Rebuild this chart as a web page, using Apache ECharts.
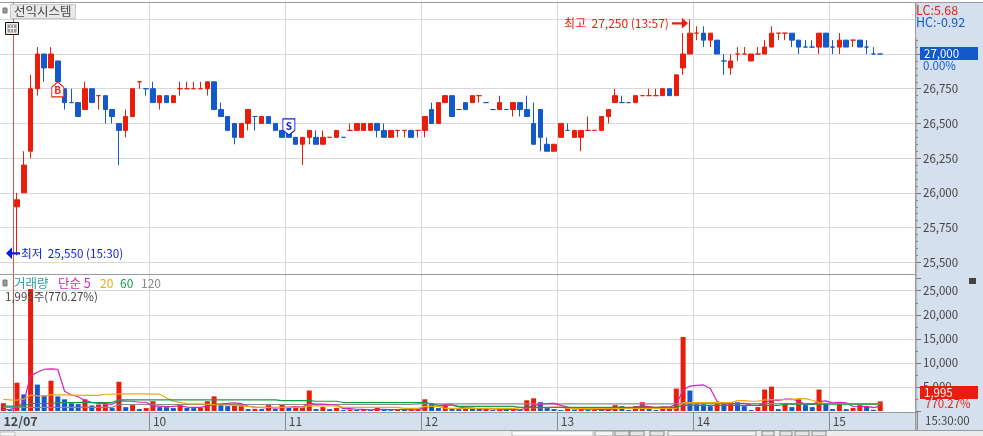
<!DOCTYPE html>
<html><head><meta charset="utf-8">
<style>html,body{margin:0;padding:0;background:#fff}#c{width:983px;height:436px}</style>
<script src="https://cdn.jsdelivr.net/npm/echarts@6/dist/echarts.min.js"></script>
</head><body><div id="c"></div>
<script>
// candles, one row per 10 bars (first two volume bars have no candle)
const opens=[null,null,
25900,26000,26300,26750,27000,26900,26950,26750,26650,26650,
26600,26750,26700,26700,26600,26500,26450,26550,26800,26750,
26750,26650,26700,26650,26750,26750,26750,26750,26750,26800,
26600,26550,26500,26400,26500,26550,26500,26550,26500,26450,
26450,26400,26350,26400,26400,26350,26400,26400,26400,26450,
26450,26450,26450,26500,26450,26400,26450,26450,26450,26450,
26450,26600,26500,26650,26700,26600,26650,26650,26700,26650,
26600,26600,26600,26600,26650,26600,26500,26600,26350,26300,
26400,26450,26400,26400,26450,26450,26450,26550,26650,26650,
26650,26650,26700,26700,26700,26700,26750,26700,26900,27000,
27150,27150,27100,27100,26950,26900,27000,27000,26950,27000,
27000,27050,27150,27150,27150,27100,27050,27050,27050,27150,
27050,27050,27100,27100,27100,27050,27000,27000];
const closes=[null,null,
25950,26200,26750,27000,26900,27000,26800,26650,26650,26550,
26750,26650,26700,26600,26550,26450,26550,26750,26800,26750,
26650,26700,26650,26700,26750,26750,26750,26750,26800,26600,
26550,26450,26400,26500,26600,26550,26550,26500,26450,26400,
26400,26350,26400,26450,26350,26400,26400,26450,26400,26450,
26500,26500,26500,26450,26400,26450,26450,26450,26400,26450,
26550,26500,26650,26700,26550,26600,26600,26700,26700,26650,
26600,26650,26600,26650,26600,26550,26350,26400,26300,26350,
26500,26450,26450,26450,26450,26450,26550,26600,26700,26650,
26650,26700,26700,26700,26700,26750,26700,26850,27000,27150,
27150,27100,27150,27000,26950,26950,27000,27000,27000,27000,
27050,27150,27150,27150,27100,27050,27050,27050,27150,27050,
27050,27100,27050,27100,27050,27050,27000,27000];
const lows=[null,null,
25550,26000,26250,26700,26800,26900,26800,26600,26650,26550,
26600,26650,26600,26500,26500,26200,26400,26550,26750,26700,
26650,26600,26650,26650,26700,26750,26750,26750,26700,26600,
26550,26450,26350,26400,26450,26450,26500,26500,26450,26400,
26400,26350,26200,26350,26350,26350,26400,26400,26400,26450,
26450,26450,26450,26400,26400,26400,26400,26400,26400,26400,
26400,26500,26500,26650,26550,26600,26600,26650,26650,26650,
26600,26600,26600,26550,26550,26550,26350,26300,26300,26300,
26400,26450,26400,26300,26450,26450,26450,26500,26650,26650,
26650,26650,26700,26700,26700,26700,26700,26700,26850,27000,
27100,27050,27050,27000,26850,26850,26950,27000,26950,27000,
27000,27050,27100,27100,27050,27000,27050,27050,27000,27050,
27000,27000,27050,27050,27050,27000,27000,27000];
const highs=[null,null,
26000,26300,26850,27050,27000,27050,26950,26750,26750,26650,
26800,26750,26700,26700,26600,26500,26600,26750,26800,26750,
26800,26700,26700,26700,26800,26800,26800,26800,26800,26800,
26650,26550,26500,26500,26600,26550,26550,26550,26500,26450,
26450,26400,26400,26450,26450,26450,26400,26450,26400,26500,
26500,26500,26500,26500,26500,26450,26450,26450,26450,26450,
26550,26650,26650,26700,26700,26600,26650,26700,26700,26650,
26600,26700,26600,26650,26650,26700,26650,26600,26400,26350,
26500,26500,26450,26450,26550,26450,26550,26600,26750,26700,
26650,26700,26700,26750,26750,26750,26750,26850,27150,27250,
27200,27200,27150,27100,27000,27000,27050,27050,27000,27050,
27100,27200,27150,27150,27150,27100,27100,27100,27150,27150,
27100,27150,27100,27100,27100,27100,27050,27000];
// flat candles the reference paints blue although the close did not fall
const flatDownBars=[10,92,118,119,122,127,129];

const volumes=[
1620,200,5880,3450,25350,5480,3240,6290,3040,2430,
1620,1420,2430,1150,1350,1420,610,6080,810,1220,
400,610,2030,810,790,610,1220,620,600,650,
2030,3040,1220,1000,1100,1220,400,450,400,1220,
400,1350,740,810,850,4260,400,810,400,650,
200,320,250,300,200,690,200,180,300,280,
350,400,2430,1620,610,1220,400,380,550,500,
450,550,200,300,250,300,200,2230,2640,1830,
810,400,200,810,300,350,250,320,250,300,
1220,1010,200,1010,1830,400,200,780,820,4660,
15380,4260,1420,1400,1010,1830,1420,1830,1800,1010,
200,810,4460,5070,400,1620,810,2430,1220,810,
4460,1620,400,1620,400,610,1220,1010,259,1995];
const ma5=[
300,350,700,1900,7300,8070,8680,8760,8680,4100,
3320,2960,2190,1810,1590,1550,1390,2120,2050,2030,
1820,1820,1010,1010,930,970,1090,810,770,740,
1020,1390,1510,1590,1680,1520,990,830,710,740,
570,760,820,900,830,1600,1410,1430,1340,1300,
490,480,360,340,250,350,330,310,310,330,
260,300,750,1020,1080,1260,1260,850,630,610,
460,490,450,400,350,320,250,620,1120,1440,
1540,1580,1180,810,500,410,380,410,290,290,
430,580,600,750,1050,890,730,840,810,1370,
4370,5180,5310,5420,4690,1980,1420,1500,1580,1580,
1250,1130,1660,2310,2190,2470,2470,2070,1300,1380,
1950,2110,1700,1780,1700,930,850,970,700,1020];
const ma20=[
2430,2300,2280,2450,3300,3150,3150,3350,3350,3350,
3300,3280,3250,3250,3250,3480,3480,3580,3580,3580,
3580,3580,3500,3500,2700,2050,1800,1550,1500,1500,
1400,1300,1250,1200,1150,1050,950,750,750,750,
750,750,750,750,750,1080,1080,1080,1080,1080,
740,740,740,740,740,740,740,740,740,540,
540,540,950,950,950,540,540,540,540,540,
540,540,540,540,540,540,680,680,680,680,
680,810,810,540,540,540,540,540,540,540,
540,540,540,540,540,540,540,540,540,540,
1750,1750,1750,1750,1750,1750,1750,1750,2160,2160,
2030,2030,2300,2370,2370,2370,2370,2570,2570,2230,
1760,1560,1560,1560,1490,1490,1490,1490,1490,1490];
const ma60=[
1010,1010,1010,1100,1555,1555,1555,1555,1760,1760,
1760,1760,1760,1760,1760,1760,1760,2300,2300,2300,
2300,2300,2300,2300,2300,2300,2300,2300,2300,2300,
2300,2300,2300,2300,2300,2300,2300,2300,2300,2300,
2300,2160,2160,2160,2160,2160,2030,2030,2030,2030,
1760,1760,1760,1760,1760,1760,1760,1760,1760,1760,
1760,1760,1760,1500,1200,1200,1200,950,950,950,
950,950,950,950,950,950,740,740,740,740,
740,740,740,740,740,740,740,740,740,740,
740,740,740,740,740,740,740,740,740,740,
1150,1150,1150,1150,1150,1150,1150,1150,1150,1150,
1150,1150,1150,1150,1150,1420,1420,1420,1420,1420,
1420,1420,1420,1420,1420,1420,1420,1420,1420,1420];
const ma120=[
750,750,750,750,750,750,750,750,750,750,
750,750,750,750,750,750,750,1350,1350,1350,
1350,1350,1350,1350,1350,1350,1350,1350,1350,1350,
1350,1350,1350,1350,1350,1350,1350,1350,1350,1350,
1350,1350,1350,1350,1350,1350,1350,1350,1350,1350,
1350,1350,1350,1350,1350,1350,1350,1350,1350,1350,
1350,1500,1500,1500,1500,1500,1500,1500,1500,1500,
1500,1500,1500,1500,1500,1500,1500,1500,1500,1500,
1500,1500,1500,1500,1500,1500,1500,1500,1500,1500,
1500,1500,1500,1500,1500,1500,1500,1500,1500,1500,
1500,1550,1550,1550,1550,1550,1550,1550,1550,1550,
1550,1550,1550,1550,1550,1550,1550,1550,1550,1550,
1550,1550,1550,1550,1550,1550,1550,1550,1550,1550];

const dayLabels=['12/07','10','11','12','13','14','15'];
const dayLabelBars=[0,22,42,62,82,102,122];
const dayLineBars=[22,42,62,82,102,122];
const barCount=135;
const categories=Array.from({length:barCount},(_,i)=>'b'+i);
const highBar=101, highValue=27250, lowBar=2, lowValue=25550;
const buyBar=8, buyLevel=26745, sellBar=42, sellLevel=26475;

const RED='#ea1c0a', BLUE='#1259cc', PANEL='#d5e0ee', GRID='#d8d8d8', EDGE='#9a9a9a', INK='#444';
const FONT='"Noto Sans CJK KR"';
const F=(s,w)=>(w?w+' ':'')+s+'px '+FONT;
const fmt=v=>String(v).replace(/\B(?=(\d{3})+$)/g,',');

const candles=opens.map((o,i)=>{
  const value=o==null?['-','-','-','-']:[o,closes[i],lows[i],highs[i]];
  if(flatDownBars.includes(i)) return {value,itemStyle:{color:BLUE,color0:BLUE,borderColor:BLUE,borderColor0:BLUE}};
  return {value};
});
const volBars=volumes.map((v,i)=>({value:v,itemStyle:{color:(i===0||v>volumes[i-1])?RED:BLUE}}));
const txt=(x,y,text,fill,size,extra)=>({type:'text',z:30,silent:true,style:Object.assign({x,y,text,fill,font:F(size),verticalAlign:'middle'},extra||{})});
const rect=(x,y,w,h,fill,z,stroke)=>({type:'rect',z:z==null?-5:z,silent:true,shape:{x,y,width:w,height:h},style:{fill,stroke:stroke||null}});

const graphic=[
  rect(915,2,68,428,PANEL),
  rect(0,412,915,18,PANEL),
  rect(0,430,983,6,'#ececec'),
  rect(512,431,81,5,'#ffffff',-4,'#bbb'),
  rect(595,431,18,5,'#f4f4f4',-4,'#999'),rect(615,431,14,5,'#e4e4e4',-4,'#888'),rect(630,431,14,5,'#e4e4e4',-4,'#888'),
  rect(650,431,14,5,'#e4e4e4',-4,'#888'),rect(668,431,88,5,'#f2f2f2',-4,'#999'),rect(762,431,12,5,'#e4e4e4',-4,'#888'),
  rect(780,431,12,5,'#e4e4e4',-4,'#888'),rect(795,431,14,5,'#e4e4e4',-4,'#888'),rect(812,431,14,5,'#e4e4e4',-4,'#888'),
  rect(0,432,15,4,'#f6f6f6',-4,'#bbb'),
  rect(916,18,8,20,PANEL,25),
  rect(0,2,983,1,EDGE,20),
  rect(0,274,915,1,EDGE,20),
  rect(0,430,983,1,EDGE,20),
  rect(915,2,1.5,428,EDGE,20),
  rect(13,3,1,409,'#d9534a',1),
  rect(3,8,4,5,'#999',20,'#777'),
  rect(10.5,4.5,65,14,'#e9e9e9',20,'#c8c8c8'),
  txt(14,11.5,'선익시스템',INK,12.5),
  rect(5.5,22.5,13,12,'#efefef',20,'#111'),
  rect(7.5,24.5,9,8,'#999',21),
  rect(10.2,25,1,7,'#efefef',22),rect(13,25,1,7,'#efefef',22),rect(8,28,8,1,'#efefef',22),
  rect(3,280,4,6,'#999',20,'#777'),
  txt(14,283,'거래량','#2e9a9a',12.5),
  txt(58,283,'단순 5','#d821b4',12.5),
  txt(100,283,'20','#efa90b',12),
  txt(120,283,'60','#189a46',12),
  txt(141,283,'120','#8a8a8a',12),
  txt(5,296.5,'1,995주(770.27%)',INK,11.5),
  txt(916,10,'LC:5.68',RED,12.5),
  txt(916,22,'HC:-0.92',BLUE,12.5),
  rect(920,47,58,13,BLUE,25),
  txt(924,53.5,'27,000','#fff',11.5),
  txt(923,65.5,'0.00%',BLUE,11.5),
  rect(920,386,58,13,RED,25),
  txt(924,392.5,'1,995','#fff',11.5),
  txt(925,404,'770.27%',RED,11.5),
  txt(925,420.5,'15:30:00',INK,11.5),
  rect(969,278,7,6,'#444',20)
];
const gridLeft=-0.4, gridW=918;
const hiddenX=i=>({type:'category',gridIndex:i,data:categories,show:false,boundaryGap:true});
const option={
  animation:false,
  backgroundColor:'#fff',
  textStyle:{fontFamily:FONT},
  graphic,
  grid:[
    {left:gridLeft,width:gridW,top:19.3,height:243},
    {left:gridLeft,width:gridW,top:278.7,height:132.3},
    {left:gridLeft,width:gridW,top:3,height:409}
  ],
  xAxis:[hiddenX(0),hiddenX(1),{
    type:'category',gridIndex:2,data:categories,boundaryGap:true,
    axisLine:{show:true,lineStyle:{color:EDGE}},
    axisTick:{show:true,length:18,lineStyle:{color:'#8a8a8a'},interval:i=>dayLineBars.includes(i)},
    splitLine:{show:true,lineStyle:{color:GRID,width:1},interval:i=>dayLineBars.includes(i)},
    axisLabel:{show:true,align:'left',margin:3,fontSize:12,color:INK,fontFamily:FONT,
      interval:i=>dayLabelBars.includes(i),
      formatter:(v,i)=>{const k=dayLabelBars.indexOf(i);if(k<0)return '';return k===0?'{b|'+dayLabels[k]+'}':dayLabels[k];},
      rich:{b:{fontWeight:'bold',fontSize:12.5,color:INK,fontFamily:FONT}}}
  }],
  yAxis:[
    {type:'value',gridIndex:0,position:'right',offset:-2.6,min:25500,max:27250,interval:250,scale:true,
      axisLine:{show:true,lineStyle:{color:EDGE}},
      axisTick:{show:true,length:6,lineStyle:{color:'#777'}},
      minorTick:{show:true,splitNumber:5,length:3,lineStyle:{color:'#777'}},
      splitLine:{show:true,lineStyle:{color:GRID,width:1}},
      axisLabel:{margin:8,color:INK,fontSize:11.5,fontFamily:FONT,formatter:v=>(v>=27000?'':fmt(v))}},
    {type:'value',gridIndex:1,position:'right',offset:-2.6,min:0,max:27500,interval:5000,
      axisLine:{show:true,lineStyle:{color:EDGE}},
      axisTick:{show:true,length:6,lineStyle:{color:'#777'}},
      minorTick:{show:true,splitNumber:2,length:3,lineStyle:{color:'#777'}},
      splitLine:{show:true,showMinLine:false,showMaxLine:false,lineStyle:{color:GRID,width:1}},
      axisLabel:{margin:8,color:INK,fontSize:11.5,fontFamily:FONT,formatter:v=>((v===0||v>25000)?'':fmt(v))}},
    {type:'value',gridIndex:2,show:false,min:0,max:1}
  ],
  series:[
    {type:'candlestick',name:'price',xAxisIndex:0,yAxisIndex:0,data:candles,barWidth:5,clip:false,z:3,
      itemStyle:{color:RED,color0:BLUE,borderColor:RED,borderColor0:BLUE,borderWidth:1},
      markPoint:{silent:true,animation:false,z:8,data:[
        {coord:[highBar,highValue],symbol:'path://M0,4 L10,4 L10,0 L16,5 L10,10 L10,6 L0,6 Z',symbolSize:[16,11],symbolOffset:[-10,4],
          itemStyle:{color:RED},label:{show:true,position:'left',distance:3,formatter:'최고  27,250 (13:57)',color:RED,fontSize:12,fontFamily:FONT}},
        {coord:[lowBar,lowValue],symbol:'path://M0,5 L6,0 L6,4 L14,4 L14,6 L6,6 L6,10 Z',symbolSize:[14,12],symbolOffset:[-4,-2],
          itemStyle:{color:'#0a1ee0'},label:{show:true,position:'right',distance:1,formatter:'최저  25,550 (15:30)',color:'#0a1ee0',fontSize:11.7,fontFamily:FONT}},
        {coord:[buyBar,buyLevel],symbol:'path://M0,5 L5,0 L10,5 L10,14 L0,14 Z',symbolSize:[12,15],
          itemStyle:{color:'#fff',borderColor:RED,borderWidth:1},label:{show:true,position:'inside',offset:[0,1],formatter:'B',color:RED,fontSize:10,fontWeight:'bold',fontFamily:FONT}},
        {coord:[sellBar,sellLevel],symbol:'path://M0,0 L10,0 L10,10 L5,14 L0,10 Z',symbolSize:[12,16],
          itemStyle:{color:'#fff',borderColor:'#0a1ee0',borderWidth:1},label:{show:true,position:'inside',offset:[0,-1],formatter:'S',color:'#0a1ee0',fontSize:10,fontWeight:'bold',fontFamily:FONT}}
      ]}},
    {type:'bar',name:'거래량',xAxisIndex:1,yAxisIndex:1,data:volBars,barWidth:5,clip:false,z:3},
    {type:'line',name:'120',xAxisIndex:1,yAxisIndex:1,data:ma120,showSymbol:false,z:4,lineStyle:{color:'#8a8a8a',width:1.2}},
    {type:'line',name:'5',xAxisIndex:1,yAxisIndex:1,data:ma5,showSymbol:false,z:5,lineStyle:{color:'#d821b4',width:1.2}},
    {type:'line',name:'20',xAxisIndex:1,yAxisIndex:1,data:ma20,showSymbol:false,z:6,lineStyle:{color:'#efa90b',width:1.2}},
    {type:'line',name:'60',xAxisIndex:1,yAxisIndex:1,data:ma60,showSymbol:false,z:7,lineStyle:{color:'#189a46',width:1.2}}
  ]
};
const chart=echarts.init(document.getElementById('c'),null,{renderer:'canvas'});
chart.setOption(option);
</script></body></html>
